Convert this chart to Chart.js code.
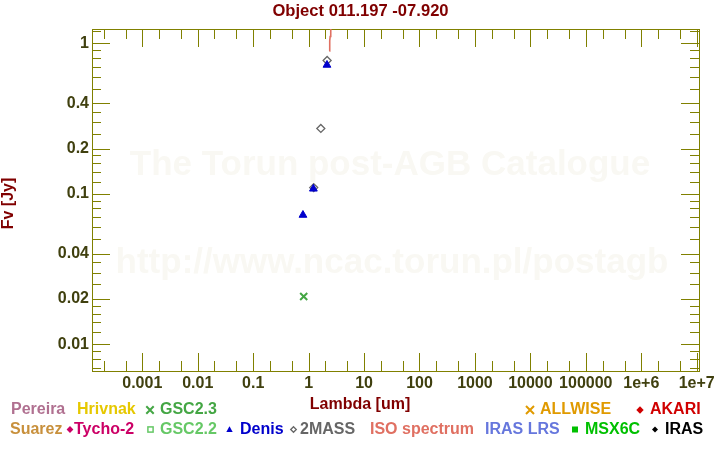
<!DOCTYPE html>
<html><head><meta charset="utf-8">
<script src="https://cdn.jsdelivr.net/npm/chart.js@4.4.0/dist/chart.umd.min.js"></script>
<style>html,body{margin:0;padding:0;background:#fff;}canvas{display:block;}</style>
</head><body>
<canvas id="c" width="720" height="450"></canvas>
<script>
// ---------- texts ----------
const chartTitle = 'Object 011.197 -07.920';
const xAxisTitle = 'Lambda [um]';
const yAxisTitle = 'Fv [Jy]';
const watermarkLines = ['The Torun post-AGB Catalogue', 'http://www.ncac.torun.pl/postagb'];

// ---------- axis ranges & ticks ----------
const xMin = 1.24e-4, xMax = 1.1e7;
const yMin = 0.00665, yMax = 1.245;
const xMajorTicks = [0.001, 0.01, 0.1, 1, 10, 100, 1000, 10000, 100000, 1e6, 1e7];
const xTickLabels = ['0.001', '0.01', '0.1', '1', '10', '100', '1000', '10000', '100000', '1e+6', '1e+7'];
const xMinorTicks = [2e-4, 5e-4, 2e-3, 5e-3, 0.02, 0.05, 0.2, 0.5, 2, 5, 20, 50, 200, 500, 2000, 5000, 2e4, 5e4, 2e5, 5e5, 2e6, 5e6];
const yMajorTicks = [0.01, 0.02, 0.04, 0.1, 0.2, 0.4, 1];
const yTickLabels = ['0.01', '0.02', '0.04', '0.1', '0.2', '0.4', '1'];
const yMinorTicks = [0.007, 0.008, 0.009, 0.012, 0.014, 0.016, 0.018, 0.025, 0.03, 0.035,
  0.05, 0.06, 0.07, 0.08, 0.09, 0.12, 0.14, 0.16, 0.18, 0.25, 0.3, 0.35, 0.5, 0.6, 0.7, 0.8, 0.9, 1.2];

// ---------- series (lambda in um, flux in Jy) ----------
const twoMassLambda = [1.235, 1.662, 2.159];
const twoMassFlux = [0.110, 0.272, 0.769];
const denisLambda = [0.791, 1.22, 2.145];
const denisFlux = [0.0723, 0.108, 0.718];
const gsc23Lambda = [0.816];
const gsc23Flux = [0.0208];
const isoLambda = [2.36, 2.39, 2.42, 2.45, 2.49, 2.53, 2.58];
const isoFlux = [0.89, 0.97, 1.04, 1.11, 1.18, 1.26, 1.40];

// ---------- legend ----------
const legendNames = ['Pereira', 'Hrivnak', 'GSC2.3', 'ALLWISE', 'AKARI',
  'Suarez', 'Tycho-2', 'GSC2.2', 'Denis', '2MASS', 'ISO spectrum', 'IRAS LRS', 'MSX6C', 'IRAS'];
const legendColors = ['#b07090', '#e6c800', '#44a644', '#e09a00', '#d00000',
  '#c8903c', '#cc0066', '#66c866', '#0000cc', '#666666', '#e07062', '#6677dd', '#00c000', '#000000'];
const legendMarkers = [null, null, 'cross', 'cross', 'diamond',
  null, 'diamond', 'squareOpen', 'triangle', 'diamondOpen', null, null, 'square', 'diamond'];
// layout only
const legendTextX = [11, 77, 160, 540, 650, 10, 74, 160, 240, 300, 370, 485, 585, 665];
const legendMarkX = [0, 0, 150, 530, 640, 0, 70, 150.5, 229.5, 293.5, 0, 0, 575, 655];
const legendMarkSize = [0, 0, 3.7, 4, 3.7, 0, 3.4, 2.6, 3.2, 2.8, 0, 0, 3, 3];
const legendRowY = [410, 410, 410, 410, 410, 429.5, 429.5, 429.5, 429.5, 429.5, 429.5, 429.5, 429.5, 429.5];

const colorOf = n => legendColors[legendNames.indexOf(n)];
const axisColor = '#808000';
const tickLabelColor = '#40400f';
const titleColor = '#800000';
const FONT = '"Liberation Sans", Arial, sans-serif';

function same(a, b) { return Math.abs(Math.log10(a) - Math.log10(b)) < 1e-6; }
function buildTicks(major, minor) {
  return major.map(v => ({ value: v, major: true }))
    .concat(minor.map(v => ({ value: v, major: false })))
    .sort((a, b) => a.value - b.value);
}
function labelFor(v, majors, labels) {
  for (let i = 0; i < majors.length; i++) if (same(v, majors[i])) return labels[i];
  return '';
}
const pts = (xs, ys) => xs.map((x, i) => ({ x: x, y: ys[i] }));

function drawMarker(ctx, kind, x, y, r, color) {
  ctx.save();
  ctx.strokeStyle = color; ctx.fillStyle = color;
  ctx.beginPath();
  if (kind === 'cross') {
    ctx.lineWidth = 2;
    ctx.moveTo(x - r, y - r); ctx.lineTo(x + r, y + r);
    ctx.moveTo(x + r, y - r); ctx.lineTo(x - r, y + r);
    ctx.stroke();
  } else if (kind === 'diamond' || kind === 'diamondOpen') {
    ctx.moveTo(x, y - r); ctx.lineTo(x + r, y); ctx.lineTo(x, y + r); ctx.lineTo(x - r, y); ctx.closePath();
    if (kind === 'diamond') ctx.fill(); else { ctx.lineWidth = 1.3; ctx.stroke(); }
  } else if (kind === 'square' || kind === 'squareOpen') {
    if (kind === 'square') ctx.fillRect(x - r, y - r, 2 * r, 2 * r);
    else { ctx.lineWidth = 1.5; ctx.strokeRect(x - r, y - r, 2 * r, 2 * r); }
  } else if (kind === 'triangle') {
    ctx.moveTo(x, y - r); ctx.lineTo(x + r, y + r * 0.8); ctx.lineTo(x - r, y + r * 0.8); ctx.closePath();
    ctx.fill();
  }
  ctx.restore();
}

const decor = {
  id: 'decor',
  beforeDatasetsDraw(chart) {
    const ctx = chart.ctx;
    const { left, right, top, bottom } = chart.chartArea;
    // watermark
    ctx.save();
    ctx.font = 'bold 35px ' + FONT;
    ctx.fillStyle = '#f9f8f3';
    ctx.textAlign = 'center';
    ctx.textBaseline = 'alphabetic';
    ctx.fillText(watermarkLines[0], 390, 175);
    ctx.fillText(watermarkLines[1], 392, 273);
    ctx.restore();
    // frame and inward ticks
    const xs = chart.scales.x, ys = chart.scales.y;
    ctx.save();
    ctx.strokeStyle = axisColor;
    ctx.lineWidth = 1;
    ctx.beginPath();
    xs.ticks.forEach(t => {
      const px = Math.round(xs.getPixelForValue(t.value)) + 0.5;
      const len = t.major ? 18 : 10;
      ctx.moveTo(px, bottom); ctx.lineTo(px, bottom - len);
      ctx.moveTo(px, top); ctx.lineTo(px, top + len);
    });
    ys.ticks.forEach(t => {
      const py = Math.round(ys.getPixelForValue(t.value)) + 0.5;
      const len = t.major ? 18 : 9;
      ctx.moveTo(left, py); ctx.lineTo(left + len, py);
      ctx.moveTo(right, py); ctx.lineTo(right - len, py);
    });
    ctx.stroke();
    ctx.strokeRect(left + 0.5, top + 0.5, right - left, bottom - top);
    ctx.restore();
  },
  afterDraw(chart) {
    const ctx = chart.ctx;
    ctx.save();
    ctx.textBaseline = 'middle';
    ctx.fillStyle = titleColor;
    ctx.textAlign = 'center';
    ctx.font = 'bold 16.6px ' + FONT;
    ctx.fillText(chartTitle, 360.5, 11.5);
    ctx.font = 'bold 16px ' + FONT;
    ctx.fillText(xAxisTitle, 360, 404.5);
    ctx.save();
    ctx.translate(9, 203.5);
    ctx.rotate(-Math.PI / 2);
    ctx.fillText(yAxisTitle, 0, 0);
    ctx.restore();
    ctx.textAlign = 'left';
    legendNames.forEach((n, i) => {
      ctx.fillStyle = legendColors[i];
      ctx.fillText(n, legendTextX[i], legendRowY[i]);
      if (legendMarkers[i]) drawMarker(ctx, legendMarkers[i], legendMarkX[i], legendRowY[i], legendMarkSize[i], legendColors[i]);
    });
    ctx.restore();
  }
};

Chart.defaults.font.family = FONT;

new Chart(document.getElementById('c'), {
  type: 'scatter',
  data: {
    datasets: [
      { label: 'ISO spectrum', data: pts(isoLambda, isoFlux), showLine: true,
        borderColor: colorOf('ISO spectrum'), borderWidth: 1.6, pointRadius: 0, fill: false, tension: 0 },
      { label: 'Denis', data: pts(denisLambda, denisFlux), pointStyle: 'triangle', pointRadius: 4.5,
        backgroundColor: colorOf('Denis'), borderColor: colorOf('Denis'), borderWidth: 1 },
      { label: 'GSC2.3', data: pts(gsc23Lambda, gsc23Flux), pointStyle: 'crossRot', pointRadius: 5,
        borderColor: colorOf('GSC2.3'), borderWidth: 2 },
      { label: '2MASS', data: pts(twoMassLambda, twoMassFlux), pointStyle: 'rectRot', pointRadius: 4,
        backgroundColor: 'rgba(255,255,255,0)', borderColor: colorOf('2MASS'), borderWidth: 1.3 }
    ]
  },
  options: {
    responsive: false,
    animation: false,
    devicePixelRatio: 1,
    events: [],
    layout: { padding: { left: 0, right: 21, top: 29, bottom: 0 } },
    plugins: { legend: { display: false }, title: { display: false }, tooltip: { enabled: false } },
    scales: {
      x: {
        type: 'logarithmic', position: 'bottom', min: xMin, max: xMax,
        afterBuildTicks: s => { s.ticks = buildTicks(xMajorTicks, xMinorTicks); },
        afterFit: s => { s.height = 79; },
        grid: { display: false, drawTicks: false, tickLength: 0 },
        border: { display: false },
        ticks: {
          autoSkip: false, maxRotation: 0, minRotation: 0, padding: 3,
          color: tickLabelColor, font: { size: 16, weight: 'bold' },
          callback: v => labelFor(v, xMajorTicks, xTickLabels)
        }
      },
      y: {
        type: 'logarithmic', position: 'left', min: yMin, max: yMax,
        afterBuildTicks: s => { s.ticks = buildTicks(yMajorTicks, yMinorTicks); },
        afterFit: s => { s.width = 92; },
        grid: { display: false, drawTicks: false, tickLength: 0 },
        border: { display: false },
        ticks: {
          autoSkip: false, padding: 3,
          color: tickLabelColor, font: { size: 16, weight: 'bold' },
          callback: v => labelFor(v, yMajorTicks, yTickLabels)
        }
      }
    }
  },
  plugins: [decor]
});
</script>
</body></html>
